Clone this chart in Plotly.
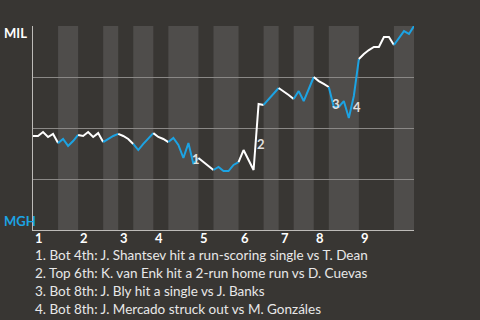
import plotly.graph_objects as go

# Win probability for MIL after each play (0 = MGH wins, 1 = MIL wins)
win_prob = [0.461, 0.461, 0.480, 0.456, 0.471, 0.426, 0.446, 0.412, 0.436, 0.466,
            0.461, 0.480, 0.456, 0.475, 0.431, 0.446, 0.461, 0.471, 0.461, 0.446,
            0.422, 0.392, 0.422, 0.446, 0.475, 0.456, 0.446, 0.431, 0.451, 0.417,
            0.353, 0.426, 0.324, 0.353, 0.333, 0.314, 0.294, 0.309, 0.289, 0.289,
            0.319, 0.333, 0.392, 0.343, 0.294, 0.618, 0.613, 0.642, 0.672, 0.696,
            0.681, 0.662, 0.642, 0.681, 0.632, 0.691, 0.750, 0.730, 0.716, 0.701,
            0.603, 0.603, 0.632, 0.549, 0.657, 0.838, 0.863, 0.882, 0.897, 0.897,
            0.946, 0.946, 0.907, 0.941, 0.975, 0.961, 1.0]

# Play index at which each half-inning starts/ends
half_bounds = [0, 5, 9, 14, 17, 20, 24, 27, 33, 36, 41, 46, 49, 52, 56, 59, 65, 72, 76]
inning_labels = ["1", "2", "3", "4", "5", "6", "7", "8", "9"]

event_labels = ["1", "2", "3", "4"]
event_x = [32.5, 45.5, 60.5, 64.7]
event_y = [0.348, 0.422, 0.618, 0.603]

notes = [
    "1. Bot 4th: J. Shantsev hit a run-scoring single vs T. Dean",
    "2. Top 6th: K. van Enk hit a 2-run home run vs D. Cuevas",
    "3. Bot 8th: J. Bly hit a single vs J. Banks",
    "4. Bot 8th: J. Mercado struck out vs M. Gonzáles",
]

BG = "#383633"
BAND = "#4f4d4b"
BLUE = "#1ca3e3"
FONT = "Lato"

fig = go.Figure()

for k in range(len(half_bounds) - 1):
    a, b = half_bounds[k], half_bounds[k + 1]
    fig.add_trace(go.Scatter(
        x=list(range(a, b + 1)), y=win_prob[a:b + 1], mode="lines",
        line=dict(color="white" if k % 2 == 0 else BLUE, width=2),
        hoverinfo="skip", showlegend=False))

shapes = []
for k in range(1, len(half_bounds) - 1, 2):
    shapes.append(dict(type="rect", xref="x", yref="paper",
                       x0=half_bounds[k], x1=half_bounds[k + 1], y0=0, y1=1,
                       fillcolor=BAND, line=dict(width=0), layer="below"))

annotations = []
for i, lab in enumerate(inning_labels):
    annotations.append(dict(x=half_bounds[2 * i], y=0, xref="x", yref="paper",
                            text="<b>%s</b>" % lab, showarrow=False,
                            xanchor="left", yanchor="middle", xshift=0, yshift=-8,
                            font=dict(family=FONT, size=13, color="white")))
for lab, ex, ey in zip(event_labels, event_x, event_y):
    annotations.append(dict(x=ex, y=ey, xref="x", yref="y", text="<b>%s</b>" % lab,
                            showarrow=False, xanchor="center", yanchor="middle",
                            font=dict(family=FONT, size=13, color="#e0e0e0")))
annotations.append(dict(x=0, y=1, xref="paper", yref="paper", text="<b>MIL</b>",
                        showarrow=False, xanchor="left", yanchor="middle",
                        xshift=-31, yshift=-7,
                        font=dict(family=FONT, size=13, color="white")))
annotations.append(dict(x=0, y=0, xref="paper", yref="paper", text="<b>MGH</b>",
                        showarrow=False, xanchor="left", yanchor="middle",
                        xshift=-31, yshift=9,
                        font=dict(family=FONT, size=13, color=BLUE)))
for j, t in enumerate(notes):
    annotations.append(dict(x=0, y=0, xref="paper", yref="paper", text=t,
                            showarrow=False, xanchor="left", yanchor="middle",
                            xshift=0, yshift=-25 - 18 * j,
                            font=dict(family=FONT, size=13.5, color="#e8e8e8")))

fig.update_layout(
    width=480, height=320,
    margin=dict(l=33, r=66, t=26, b=90),
    paper_bgcolor=BG, plot_bgcolor=BG,
    shapes=shapes, annotations=annotations,
    xaxis=dict(range=[half_bounds[0], half_bounds[-1]], showgrid=False,
               zeroline=False, showticklabels=False, showline=True,
               linecolor="#bdbbb8", linewidth=1, ticks=""),
    yaxis=dict(range=[0, 1], tickvals=[0, 0.25, 0.5, 0.75, 1], showgrid=True,
               gridcolor="#8a8886", gridwidth=1, zeroline=False,
               showticklabels=False, showline=True, linecolor="#bdbbb8",
               linewidth=1, ticks=""),
)

fig.write_html("out.html")
